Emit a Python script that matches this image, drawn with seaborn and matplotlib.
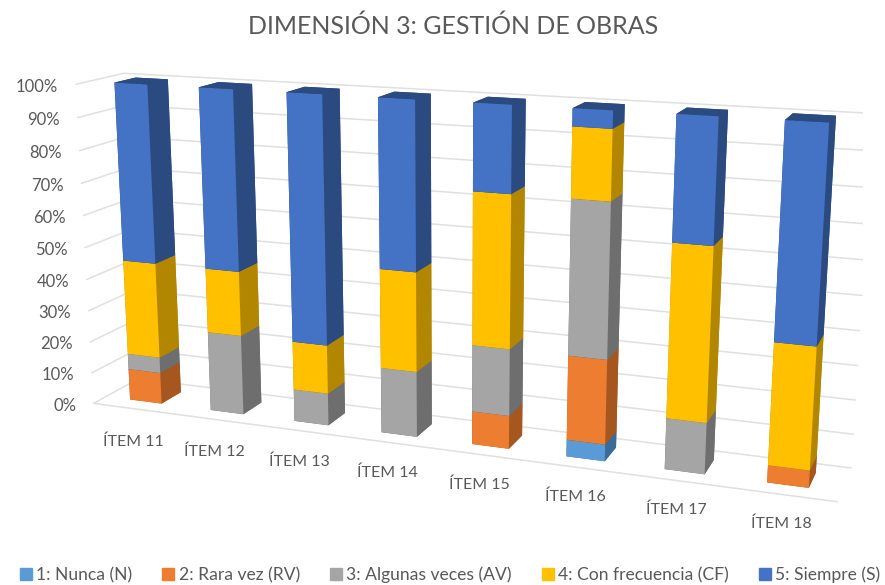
import pandas as pd
import matplotlib
matplotlib.use("Agg")
import matplotlib.pyplot as plt
from matplotlib.patches import Patch
from mpl_toolkits.mplot3d import proj3d
import seaborn as sns

items = ["ÍTEM 11", "ÍTEM 12", "ÍTEM 13", "ÍTEM 14", "ÍTEM 15", "ÍTEM 16", "ÍTEM 17", "ÍTEM 18"]
nunca = [0, 0, 0, 0, 0, 5, 0, 0]
rara_vez = [10, 0, 0, 0, 10, 25, 0, 5]
algunas = [5, 25, 10, 20, 20, 45, 15, 0]
frecuencia = [30, 20, 15, 30, 45, 20, 50, 35]
siempre = [55, 55, 75, 50, 25, 5, 35, 60]
series_names = ["1: Nunca (N)", "2: Rara vez (RV)", "3: Algunas veces (AV)", "4: Con frecuencia (CF)", "5: Siempre (S)"]
yticks = [0, 10, 20, 30, 40, 50, 60, 70, 80, 90, 100]

W, H = 885, 585
sns.set_theme(style="white")
plt.rcParams["font.family"] = ["Lato", "DejaVu Sans"]

# camera fitted against corners measured on the reference
elev, azim, focal = 14.174, -69.2485, 0.3675
box_a, box_b = 2.2909, 0.2673
gap_x, gap_y = 0.3025, 0.2753
scale, tx, ty = 4566.882, 451.62, 314.80

fig = plt.figure(figsize=(W / 100, H / 100), dpi=100)
ax = fig.add_axes([0.1, 0.1, 0.8 * H / W, 0.8], projection="3d", computed_zorder=False)
ax.set_xlim(0, 8)
ax.set_ylim(0, 1)
ax.set_zlim(0, 100)
ax.view_init(elev=elev, azim=azim)
ax.set_proj_type("persp", focal_length=focal)
ax.set_box_aspect((box_a, box_b, 1))
xlo, xhi = ax.viewLim.intervalx
ylo, yhi = ax.viewLim.intervaly
side = scale * (xhi - xlo)
ax.set_position([(tx + scale * xlo) / W, (ty + scale * ylo) / H, side / W, side / H])
ax.set_axis_off()
ax.patch.set_alpha(0)
M = ax.get_proj()


# flat label at a 3D spot, nudged by some pixels
def label(x, y, z, s, dx=0, dy=0, **kw):
    X, Y, _ = proj3d.proj_transform(x, y, z, M)
    ax.text2D(X + dx / scale, Y - dy / scale, s, transform=ax.transData, color="#595959", zorder=10, **kw)


df = pd.DataFrame({"N": nunca, "RV": rara_vez, "AV": algunas, "CF": frecuencia, "S": siempre}, index=items)
colors = sns.color_palette(["#5B9BD5", "#ED7D31", "#A5A5A5", "#FFC000", "#4472C4"])
dark = sns.color_palette(["#3A6C99", "#A5571F", "#6E6E6E", "#B38600", "#2B4A80"])

grid_c = "#E0E0E0"
for z in yticks:
    ax.plot([0, 0, 8], [0, 1, 1], [z, z, z], color=grid_c, lw=1.1, zorder=1)
    label(-0.12, 0, z, f"{z}%", dx=-8, dy=3.5, ha="right", va="center", fontsize=12)
ax.plot([0, 8], [0, 0], [0, 0], color=grid_c, lw=1.1, zorder=1)

bottoms = df.cumsum(axis=1).shift(1, axis=1).fillna(0)
for j, col in enumerate(df.columns):
    for i in range(len(items)):
        if df[col].iloc[i] == 0:
            continue
        ax.bar3d(i + gap_x, gap_y, bottoms[col].iloc[i], 1 - 2 * gap_x, 1 - 2 * gap_y, df[col].iloc[i],
                 color=[dark[j], dark[j], colors[j], dark[j], dark[j], dark[j]], shade=False,
                 linewidth=0, zorder=2 + j)

for i, name in enumerate(items):
    label(i + 0.5, -0.9, 0, name, dx=43 - 4 * i, dy=8 - 1.7 * i, ha="center", va="center", fontsize=11.5)

fig.text(453 / W, 1 - 26 / H, "DIMENSIÓN 3: GESTIÓN DE OBRAS", ha="center", va="center", fontsize=18, color="#595959")
handles = [Patch(color=c) for c in colors]
fig.legend(handles, series_names, loc="center", bbox_to_anchor=(450 / W, 1 - 575 / H), ncol=5, frameon=False,
           fontsize=12.6, labelcolor="#595959", handlelength=0.7, handleheight=0.7, handletextpad=0.25,
           columnspacing=1.7, borderpad=0, borderaxespad=0)
fig.savefig("out.png", dpi=100)
